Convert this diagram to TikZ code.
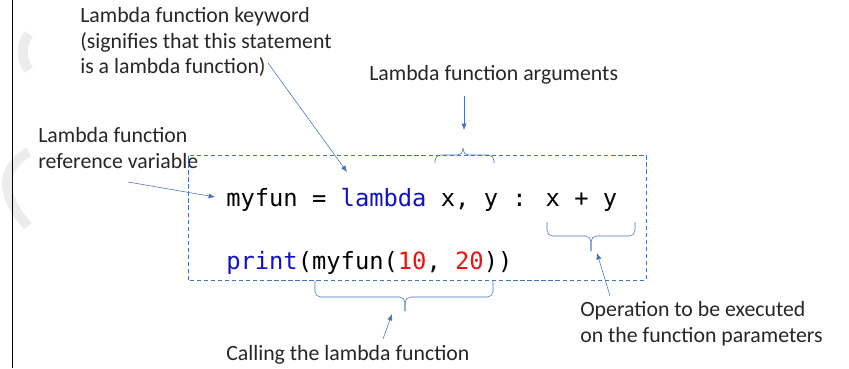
\documentclass[tikz,border=0pt]{standalone}
\usepackage{fontspec}
\setmainfont{Carlito}
\newfontfamily\codefont{DejaVu Sans Mono}
\usetikzlibrary{arrows.meta}
\definecolor{callblue}{HTML}{4472C4}
\definecolor{kwblue}{HTML}{1010C8}
\definecolor{numred}{HTML}{F01010}
\tikzset{
  lbl/.style={inner sep=0pt, anchor=west, align=left, text=black!85,
              font=\fontsize{15.5}{18.2}\selectfont},
  code/.style={inner sep=0pt, anchor=base west,
               font=\codefont\fontsize{16.9}{20}\selectfont},
  callout/.style={callblue, thin, -{Latex[length=1.6mm,width=1.3mm]}},
  brc/.style={callblue, thin, rounded corners=4pt},
  wm/.style={gray!15, line width=0.25cm},
}

\begin{document}
\begin{tikzpicture}
\useasboundingbox (0,0) rectangle (21.225,9.2);
\draw[wm] (0.72,8.35) .. controls (0.52,8.1) and (0.52,7.7) .. (0.72,7.45);
\draw[wm] (0.72,5.4) .. controls (0.0,5.0) and (0.0,4.3) .. (0.7,3.55);
\draw[semithick] (0.3,0) -- (0.3,9.2);

\node[lbl] (kw) at (2.0,8.15) {Lambda function keyword\\(signifies that this statement\\is a lambda function)};
\node[lbl] (args) at (9.225,7.325) {Lambda function arguments};
\node[lbl] (ref) at (0.95,5.5) {Lambda function\\reference variable};
\node[lbl] (op) at (14.5,1.11) {Operation to be executed\\on the function parameters};
\node[lbl] (call) at (5.65,0.325) {Calling the lambda function};

\draw[callblue, thin, dash pattern=on 3pt off 2pt] (4.7,2.2) rectangle (16.15,5.325);
\node[code] (def) at (5.65,4.05) {myfun = {\color{kwblue}lambda} x, y : x + y};
\node[code] (use) at (5.65,2.475) {{\color{kwblue}print}(myfun({\color{numred}10}, {\color{numred}20}))};

\draw[brc] (10.875,5.125) |- (11.575,5.325) -- (11.575,5.5);
\draw[brc] (12.35,5.125) |- (11.575,5.325) -- (11.575,5.5);
\draw[brc] (13.675,3.65) |- (14.775,3.3) -- (14.775,2.925);
\draw[brc] (15.875,3.65) |- (14.775,3.3) -- (14.775,2.925);
\draw[brc] (7.875,2.175) |- (10.125,1.775) -- (10.125,1.425);
\draw[brc] (12.325,2.175) |- (10.125,1.775) -- (10.125,1.425);

\coordinate (kwS) at (6.7,7.625);
\coordinate (kwE) at (8.675,4.9);
\coordinate (argS) at (11.6,6.8);
\coordinate (argE) at (11.6,5.95);
\coordinate (refS) at (3.2,4.65);
\coordinate (refE) at (5.375,4.275);
\coordinate (opS) at (15.25,1.8);
\coordinate (opE) at (14.925,2.875);
\coordinate (callS) at (9.575,0.725);
\coordinate (callE) at (9.8,1.35);
\draw[callout] (kwS) -- (kwE);
\draw[callout] (argS) -- (argE);
\draw[callout] (refS) -- (refE);
\draw[callout] (opS) -- (opE);
\draw[callout] (callS) -- (callE);
\end{tikzpicture}
\end{document}
